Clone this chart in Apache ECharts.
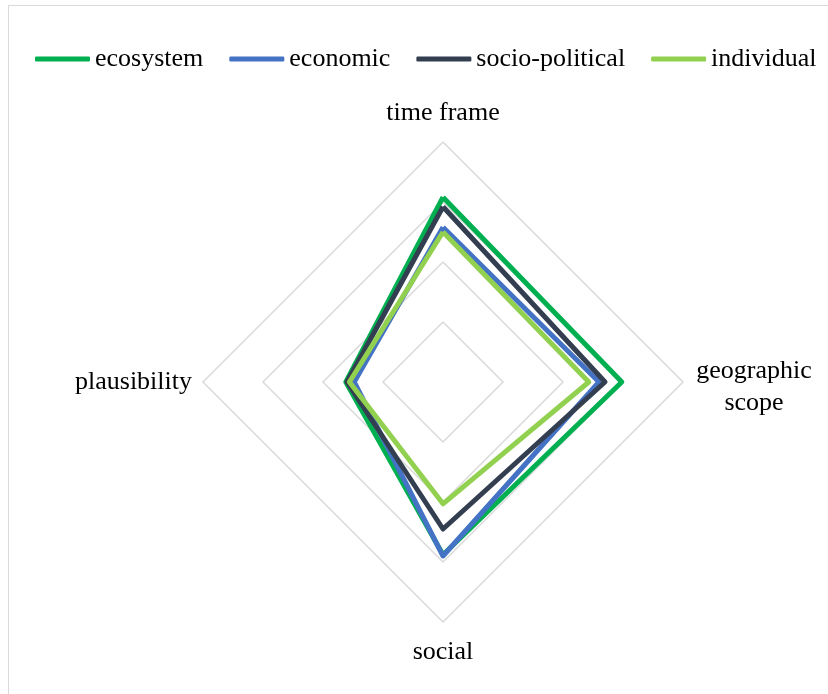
<!DOCTYPE html>
<html>
<head>
<meta charset="utf-8">
<script src="https://cdn.jsdelivr.net/npm/echarts@6/dist/echarts.min.js"></script>
<style>
html,body{margin:0;padding:0;background:#fff;overflow:hidden;}
#frame{position:absolute;left:8px;top:5px;width:1000px;height:1000px;border:1.5px solid #d9d9d9;box-sizing:border-box;}
#chart{position:absolute;left:0;top:0;width:828px;height:694px;}
</style>
</head>
<body>
<div id="frame"></div>
<div id="chart"></div>
<script>
// Indicators in ECharts drawing order (counter-clockwise from top)
const indicators = ['time frame', 'plausibility', 'social', 'geographic\nscope'];
const maxValue = 4;
const seriesNames = ['ecosystem', 'economic', 'socio-political', 'individual'];
const ecosystem = [3.08, 1.62, 2.88, 2.98];
const economic = [2.58, 1.48, 2.9, 2.6];
const socioPolitical = [2.92, 1.6, 2.45, 2.7];
const individual = [2.5, 1.56, 2.03, 2.43];
const colors = ['#00b050', '#4472c4', '#333f50', '#92d050'];

const values = [ecosystem, economic, socioPolitical, individual];
const font = '"Liberation Serif","Times New Roman",serif';

const chart = echarts.init(document.getElementById('chart'), null, {renderer: 'canvas'});
chart.setOption({
  animation: false,
  color: colors,
  legend: {
    data: seriesNames,
    left: 35,
    top: 46,
    padding: 0,
    icon: 'roundRect',
    itemWidth: 55,
    itemHeight: 5,
    itemGap: 26,
    textStyle: {fontFamily: font, fontSize: 26, color: '#000'}
  },
  radar: {
    center: [443, 382],
    radius: 240,
    startAngle: 90,
    splitNumber: 4,
    shape: 'polygon',
    indicator: indicators.map(n => ({name: n, min: 0, max: maxValue})),
    nameGap: 11,
    axisName: {
      color: '#000',
      fontFamily: font,
      fontSize: 26,
      padding: [6, 0, 5, 0],
      formatter: function (name) {
        if (name.indexOf('\n') >= 0) {
          return name.split('\n').map((s, i) => (i === 0 ? '{c1|' : '{c|') + s + '}').join('\n');
        }
        return name;
      },
      rich: {
        c1: {width: 120, align: 'center', lineHeight: 34, padding: [12, 0, 0, 0], fontSize: 26, fontFamily: font, color: '#000'},
        c: {width: 120, align: 'center', lineHeight: 34, padding: [8, 0, 0, 0], fontSize: 26, fontFamily: font, color: '#000'}
      }
    },
    axisLine: {show: false},
    axisTick: {show: false},
    axisLabel: {show: false},
    splitArea: {show: false},
    splitLine: {lineStyle: {color: '#d9d9d9', width: 1.5}}
  },
  series: [{
    type: 'radar',
    symbol: 'none',
    data: values.map((v, i) => ({
      name: seriesNames[i],
      value: v,
      lineStyle: {color: colors[i], width: 5},
      itemStyle: {color: colors[i]}
    }))
  }]
});
</script>
</body>
</html>
